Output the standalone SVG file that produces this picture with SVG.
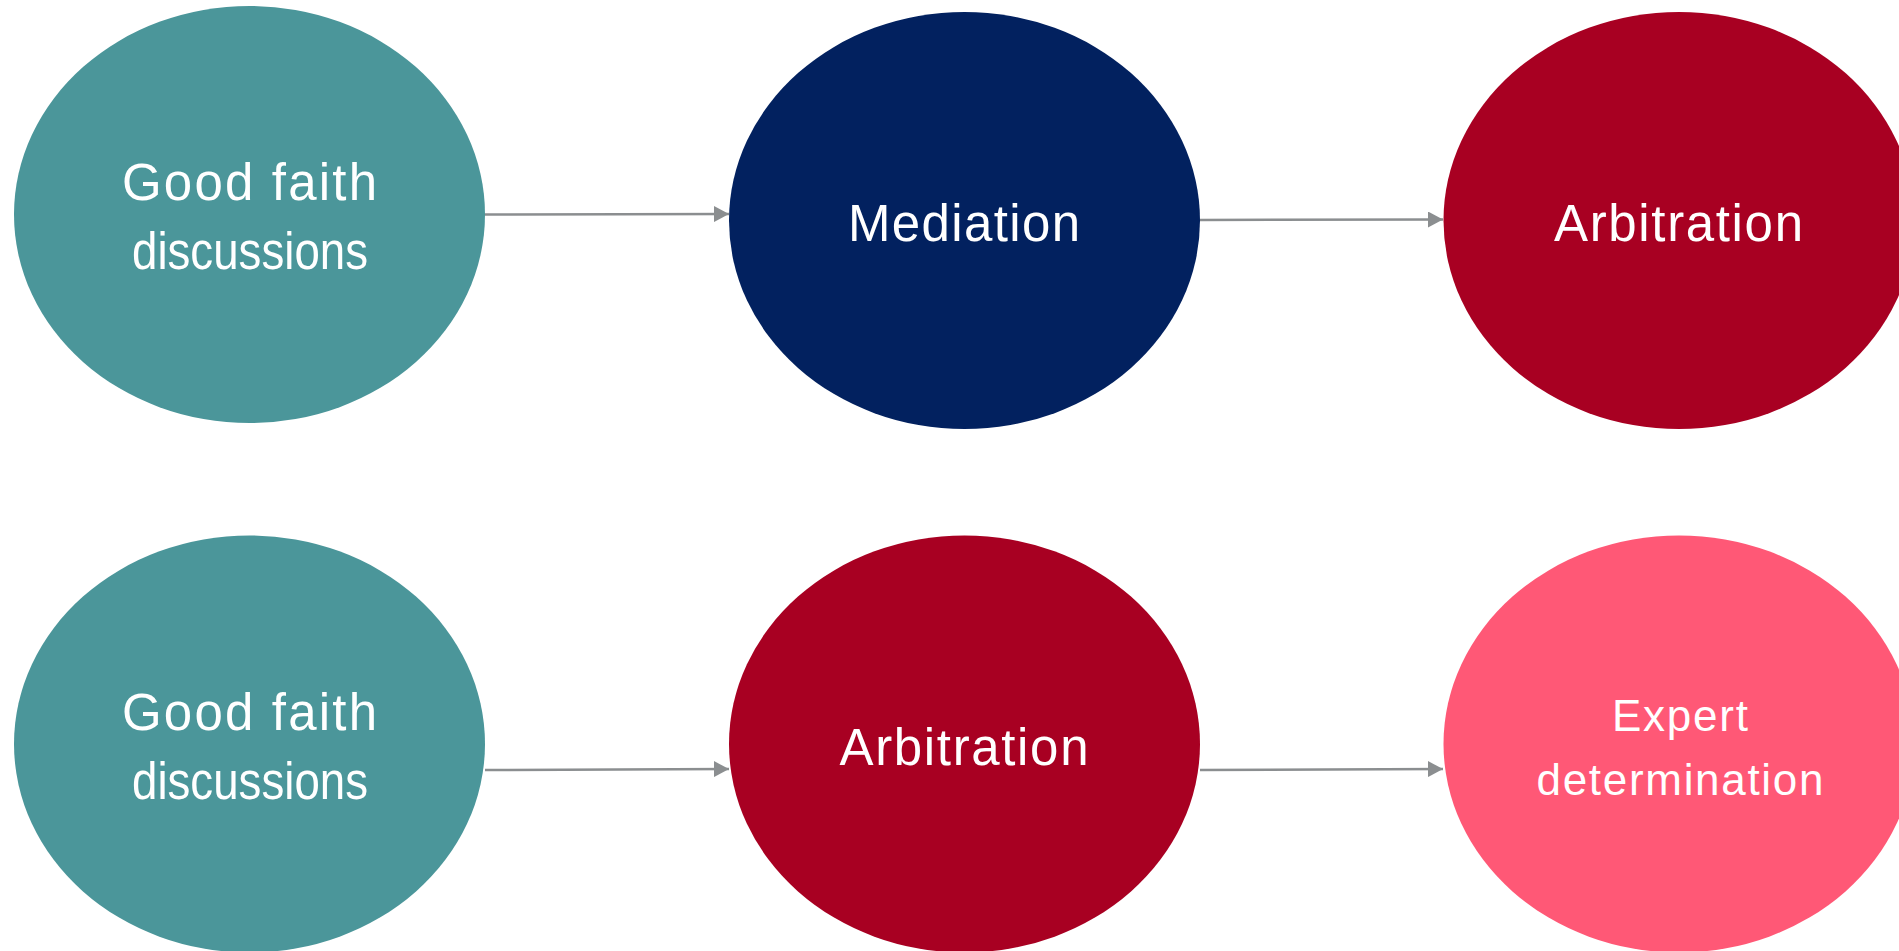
<svg xmlns="http://www.w3.org/2000/svg" width="1899" height="951" viewBox="0 0 1899 951">
  <style>
    .label { font-family: "Liberation Sans", Arial, sans-serif; fill: #ffffff; text-anchor: middle; }
    .big { font-size: 51px; }
    .small { font-size: 44px; }
    .conn { stroke: #8b8e90; stroke-width: 2.5; fill: none; marker-end: url(#arrow); }
  </style>
  <defs>
    <marker id="arrow" markerUnits="userSpaceOnUse" markerWidth="16" markerHeight="16" refX="15" refY="8" orient="auto">
      <path d="M0,0 L15,8 L0,16 z" fill="#8b8e90"/>
    </marker>
  </defs>
  <rect width="1899" height="951" fill="#ffffff"/>

  <g id="connectors">
    <line class="conn" x1="485" y1="214.5" x2="729" y2="214"/>
    <line class="conn" x1="1200" y1="220" x2="1443" y2="219.5"/>
    <line class="conn" x1="485" y1="770" x2="729" y2="769"/>
    <line class="conn" x1="1200" y1="770" x2="1443" y2="769"/>
  </g>

  <g id="good-faith-top">
    <ellipse cx="249.5" cy="214.5" rx="235.5" ry="208.5" fill="#4b969a"/>
    <text class="label big" x="249.5" y="200" textLength="255" lengthAdjust="spacing">Good faith</text>
    <text class="label big" x="250" y="269" textLength="236" lengthAdjust="spacingAndGlyphs">discussions</text>
  </g>

  <g id="mediation">
    <ellipse cx="964.5" cy="220.5" rx="235.5" ry="208.5" fill="#02215f"/>
    <text class="label big" x="964" y="241" textLength="232" lengthAdjust="spacing">Mediation</text>
  </g>

  <g id="arbitration-top">
    <ellipse cx="1679" cy="220.5" rx="235.5" ry="208.5" fill="#a80022"/>
    <text class="label big" x="1678.5" y="241" textLength="249" lengthAdjust="spacing">Arbitration</text>
  </g>

  <g id="good-faith-bottom">
    <ellipse cx="249.5" cy="744" rx="235.5" ry="208.5" fill="#4b969a"/>
    <text class="label big" x="249.5" y="730" textLength="255" lengthAdjust="spacing">Good faith</text>
    <text class="label big" x="250" y="799" textLength="236" lengthAdjust="spacingAndGlyphs">discussions</text>
  </g>

  <g id="arbitration-bottom">
    <ellipse cx="964.5" cy="744" rx="235.5" ry="208.5" fill="#a80022"/>
    <text class="label big" x="964" y="765" textLength="249" lengthAdjust="spacing">Arbitration</text>
  </g>

  <g id="expert-determination">
    <ellipse cx="1679" cy="744" rx="235.5" ry="208.5" fill="#ff5876"/>
    <text class="label small" x="1680" y="731" textLength="136" lengthAdjust="spacing">Expert</text>
    <text class="label small" x="1680" y="795" textLength="287" lengthAdjust="spacing">determination</text>
  </g>
</svg>
